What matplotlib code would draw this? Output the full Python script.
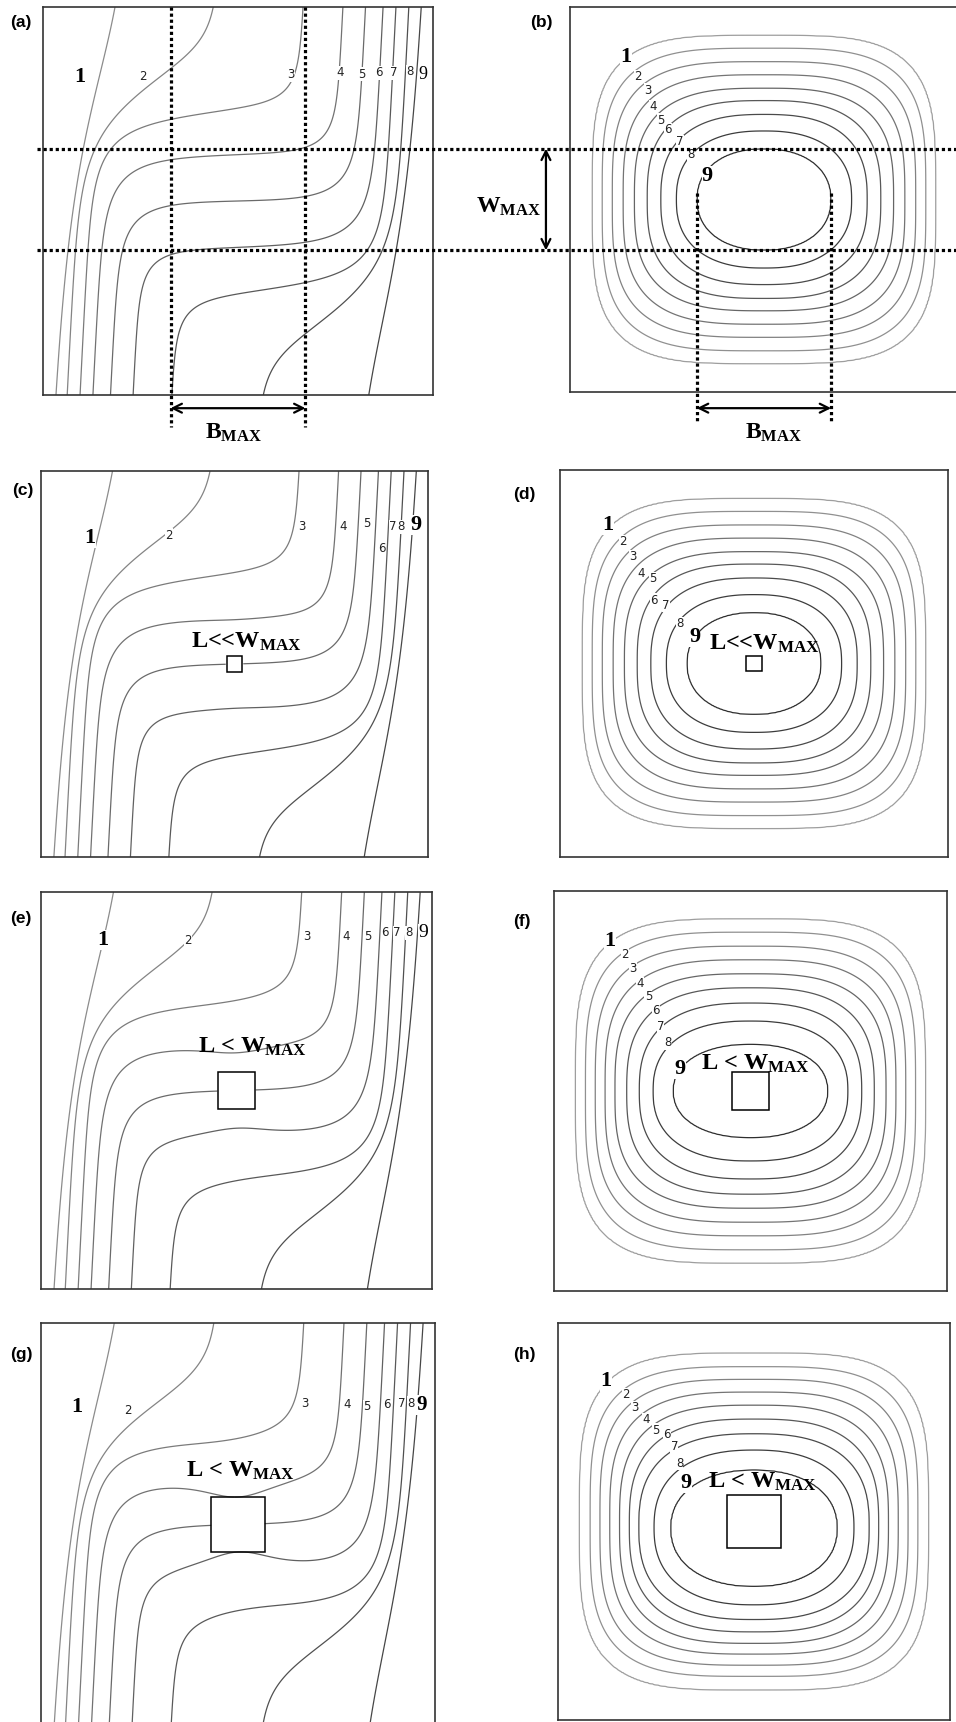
import numpy as np
import matplotlib
matplotlib.use("Agg")
import matplotlib.pyplot as plt
import matplotlib.transforms as mtransforms
from matplotlib.lines import Line2D
from matplotlib.patches import Rectangle

plt.rcParams["mathtext.fontset"] = "custom"
plt.rcParams["mathtext.rm"] = "Liberation Serif:bold"
plt.rcParams["mathtext.bf"] = "Liberation Serif:bold"
plt.rcParams["mathtext.it"] = "Liberation Serif:bold"

# ---- isotherms 1..9 (left panels), fractions of the box
iso_levels = [1, 2, 3, 4, 5, 6, 7, 8, 9]
iso_left_u = [0.030, 0.062, 0.095, 0.128, 0.173, 0.231, 0.330, 0.556, 0.816]   # rising branch at the bottom
iso_right_u = [0.184, 0.444, 0.667, 0.769, 0.827, 0.872, 0.905, 0.938, 0.970]  # rising branch at the top
iso_mid_v = [1.70, 0.95, 0.738, 0.62, 0.50, 0.38, 0.262, 0.05, -0.70]        # middle run height at u=0.5
iso_mid_slope = [2.2, 0.62, 0.12, 0.02, 0.0, 0.02, 0.12, 0.62, 2.2]
iso_round_low = [0.085, 0.08, 0.08, 0.08, 0.07, 0.055, 0.05, 0.045, 0.04]
iso_round_high = [0.04, 0.045, 0.05, 0.055, 0.07, 0.08, 0.08, 0.08, 0.085]
iso_lean = 0.05

# ---- streamlines (right panels): half width / half height of rings 1..9
ring_half_w = [0.442, 0.417, 0.391, 0.363, 0.334, 0.301, 0.266, 0.226, 0.173]
ring_half_h = [0.426, 0.393, 0.358, 0.324, 0.289, 0.257, 0.221, 0.178, 0.132]
ring_half_w_f = [0.445, 0.420, 0.395, 0.370, 0.345, 0.315, 0.283, 0.248, 0.197]
ring_half_h_f = [0.430, 0.397, 0.362, 0.328, 0.293, 0.258, 0.220, 0.175, 0.117]
ring_half_w_h = [0.445, 0.418, 0.393, 0.368, 0.343, 0.318, 0.294, 0.255, 0.213]
ring_half_h_h = [0.424, 0.390, 0.360, 0.330, 0.300, 0.268, 0.234, 0.195, 0.147]
ring_drop_h = [0.0, 0.0, 0.002, 0.004, 0.007, 0.010, 0.013, 0.015, 0.017]
ring_power = [3.8, 3.6, 3.4, 3.2, 3.0, 2.8, 2.6, 2.4, 2.2]

# square block half size per panel (fraction of box)
block_half = {"c": 0.0205, "d": 0.0205, "e": 0.047, "f": 0.048, "g": 0.068, "h": 0.068}
block_text = {"c": "L<<W", "d": "L<<W", "e": "L < W", "f": "L < W", "g": "L < W", "h": "L < W"}
block_text_pos = {"c": (0.531, 0.443), "d": (0.527, 0.448), "e": (0.54, 0.389),
                  "f": (0.512, 0.432), "g": (0.507, 0.366), "h": (0.522, 0.40)}

# label positions (u, distance from top) for levels 1..9
label_pos = {
    "a": [(0.095, 0.18), (0.257, 0.18), (0.635, 0.175), (0.762, 0.17), (0.818, 0.173),
          (0.862, 0.17), (0.90, 0.17), (0.941, 0.167), (0.974, 0.175)],
    "c": [(0.127, 0.174), (0.33, 0.166), (0.674, 0.145), (0.78, 0.145), (0.842, 0.135),
          (0.88, 0.20), (0.91, 0.145), (0.93, 0.145), (0.97, 0.14)],
    "e": [(0.159, 0.121), (0.376, 0.121), (0.68, 0.113), (0.78, 0.113), (0.837, 0.113),
          (0.88, 0.103), (0.91, 0.103), (0.94, 0.103), (0.977, 0.103)],
    "g": [(0.091, 0.208), (0.22, 0.218), (0.67, 0.20), (0.776, 0.203), (0.826, 0.208),
          (0.877, 0.203), (0.915, 0.199), (0.94, 0.199), (0.966, 0.203)],
    "b": [(0.145, 0.129), (0.175, 0.181), (0.201, 0.216), (0.214, 0.259), (0.235, 0.294),
          (0.253, 0.319), (0.283, 0.35), (0.311, 0.382), (0.354, 0.44)],
    "d": [(0.123, 0.142), (0.162, 0.185), (0.187, 0.224), (0.209, 0.267), (0.239, 0.28),
          (0.243, 0.336), (0.273, 0.349), (0.31, 0.397), (0.347, 0.431)],
    "f": [(0.142, 0.125), (0.18, 0.16), (0.20, 0.194), (0.22, 0.232), (0.24, 0.265),
          (0.259, 0.30), (0.271, 0.34), (0.29, 0.38), (0.32, 0.444)],
    "h": [(0.123, 0.147), (0.174, 0.181), (0.197, 0.214), (0.225, 0.244), (0.25, 0.27),
          (0.279, 0.282), (0.297, 0.31), (0.31, 0.353), (0.327, 0.403)],
}
nine_style = {"a": (13, "normal"), "c": (16, "bold"), "e": (14, "normal"), "g": (15, "bold"),
              "b": (16, "bold"), "d": (16, "bold"), "f": (16, "bold"), "h": (16, "bold")}

FW, FH = 956, 1722
boxes = {
    "a": (43, 7, 433, 395), "b": (570, 7, 958, 392),
    "c": (41, 471, 428, 857), "d": (560, 470, 948, 857),
    "e": (41, 892, 432, 1289), "f": (554, 891, 947, 1291),
    "g": (41, 1323, 435, 1726), "h": (558, 1323, 950, 1720),
}
letter_pos = {"a": (10, 22), "b": (530, 22), "c": (12, 490), "d": (513, 495),
              "e": (10, 919), "f": (513, 921), "g": (10, 1354), "h": (513, 1354)}


def smin(a, b, r):
    m = np.minimum(a, b)
    return m - r * np.log(np.exp(-(a - m) / r) + np.exp(-(b - m) / r))


def smax(a, b, r):
    return -smin(-a, -b, r)


def isotherm(U, V, k, half=None):
    # rounded step: up the left branch, across the middle run, up the right branch
    L = iso_left_u[k] + iso_lean * V
    R = iso_right_u[k] - iso_lean * (1 - V)
    s = iso_mid_slope[k]
    P = iso_mid_v[k] + s * (U - 0.5)
    if half:
        a2 = (1.1 * half) ** 2
        d2 = (P - 0.5) ** 2 + (U - 0.5) ** 2
        P = 0.5 + (P - 0.5) * (1 - 1.1 * a2 / np.maximum(d2, a2))
    mid = (P - V) / np.sqrt(1 + s * s)
    f = smin(U - L, smax(mid, U - R, iso_round_high[k]), iso_round_low[k])
    if half:
        inside = np.maximum(np.abs(U - 0.5), np.abs(V - 0.5)) < half
        f = np.where(inside, np.nan, f)
    return f


def ring_field(U, V, hw, hh, pw, drop=None):
    ks = np.arange(0, 11)
    aw = np.concatenate([[0.5], hw, [hw[-1] * 0.05]])
    ah = np.concatenate([[0.5], hh, [hh[-1] * 0.05]])
    pp = np.concatenate([[12.0], pw, [2.0]])
    dd = np.concatenate([[0.0], drop if drop else np.zeros(9), [drop[-1] if drop else 0.0]])
    dx = np.abs(U - 0.5)
    lo = np.zeros_like(U)
    hi = np.full_like(U, 10.0)
    for _ in range(30):
        mid = 0.5 * (lo + hi)
        a = np.interp(mid, ks, aw)
        b = np.interp(mid, ks, ah)
        p = np.interp(mid, ks, pp)
        dy = np.abs(V - 0.5 + np.interp(mid, ks, dd))
        inside = (dx / a) ** p + (dy / b) ** p < 1
        lo = np.where(inside, mid, lo)
        hi = np.where(inside, hi, mid)
    return 0.5 * (lo + hi)


fig = plt.figure(figsize=(FW / 100, FH / 100), dpi=100)


def add_panel(key):
    x0, y0, x1, y1 = boxes[key]
    ax = fig.add_axes([x0 / FW, 1 - y1 / FH, (x1 - x0) / FW, (y1 - y0) / FH])
    ax.set_xlim(0, 1)
    ax.set_ylim(0, 1)
    ax.set_xticks([])
    ax.set_yticks([])
    for s in ax.spines.values():
        s.set_color("#333333")
        s.set_linewidth(1.2)
    lx, ly = letter_pos[key]
    fig.text(lx / FW, 1 - ly / FH, "(%s)" % key, ha="left", va="center",
             fontsize=12.5, fontweight="bold", family="Liberation Sans")
    return ax


def put_labels(ax, key):
    bb = dict(facecolor="white", edgecolor="none", pad=0.2)
    for lev, (u, vt) in zip(iso_levels, label_pos[key]):
        if lev == 1:
            kw = dict(fontsize=16, fontweight="bold", family="Liberation Serif")
        elif lev == 9:
            fs, fw = nine_style[key]
            kw = dict(fontsize=fs, fontweight=fw, family="Liberation Serif")
        else:
            kw = dict(fontsize=8.5, family="DejaVu Sans", color="#222222")
        ax.text(u, 1 - vt, str(lev), ha="center", va="center", bbox=bb, zorder=4, **kw)


def put_block(ax, key):
    s = block_half[key]
    ax.add_patch(Rectangle((0.5 - s, 0.5 - s), 2 * s, 2 * s, fill=False,
                           edgecolor="black", lw=1.1, zorder=5))
    tu, tv = block_text_pos[key]
    ax.text(tu, 1 - tv, block_text[key] + r"$_{\rm MAX}$", ha="center", va="center",
            fontsize=17.5, fontweight="bold", family="Liberation Serif", zorder=6)


iso_colors = [str(g) for g in np.linspace(0.55, 0.28, 9)]
ring_colors = [str(g) for g in np.linspace(0.62, 0.18, 9)]

gl = np.linspace(0.0, 1.0, 420)
U, V = np.meshgrid(gl, gl)

axes = {}
for key in ["a", "c", "e", "g"]:
    ax = add_panel(key)
    axes[key] = ax
    for k in range(9):
        F = isotherm(U, V, k, block_half.get(key))
        ax.contour(U, V, F, levels=[0.0], colors=[iso_colors[k]], linewidths=0.9)
    put_labels(ax, key)
    if key in block_half:
        put_block(ax, key)

ring_sets = {"b": (ring_half_w, ring_half_h, None), "d": (ring_half_w, ring_half_h, None),
             "f": (ring_half_w_f, ring_half_h_f, None),
             "h": (ring_half_w_h, ring_half_h_h, ring_drop_h)}
gr = np.linspace(0, 1, 320)
U2, V2 = np.meshgrid(gr, gr)
for key in ["b", "d", "f", "h"]:
    ax = add_panel(key)
    axes[key] = ax
    hw, hh, drop = ring_sets[key]
    K = ring_field(U2, V2, hw, hh, ring_power, drop)
    ax.contour(U2, V2, K, levels=iso_levels, colors=ring_colors, linewidths=0.9)
    put_labels(ax, key)
    if key in block_half:
        put_block(ax, key)

# ---- B_MAX / W_MAX markers on (a) and (b)
ax_a, ax_b = axes["a"], axes["b"]
a9, b9 = ring_half_w[8], ring_half_h[8]
dot_kw = dict(color="black", lw=2.3, dashes=(1.0, 0.9), dash_capstyle="butt")
tr = mtransforms.blended_transform_factory(fig.transFigure, ax_b.transData)
for yv in (0.5 + b9, 0.5 - b9):
    fig.add_artist(Line2D([37 / FW, 1.0], [yv, yv], transform=tr, zorder=10, **dot_kw))
for xu in (0.5 - a9, 0.5 + a9):
    ax_a.add_line(Line2D([xu, xu], [1.0, -0.082], clip_on=False, zorder=10, **dot_kw))
    ax_b.add_line(Line2D([xu, xu], [0.517, -0.08], clip_on=False, zorder=10, **dot_kw))

arr = dict(arrowstyle="<->", lw=1.6, color="black", mutation_scale=16, shrinkA=0, shrinkB=0)
ax_a.annotate("", xy=(0.5 - a9, -0.034), xytext=(0.5 + a9, -0.034), arrowprops=arr,
              annotation_clip=False)
ax_b.annotate("", xy=(0.5 - a9, -0.042), xytext=(0.5 + a9, -0.042), arrowprops=arr,
              annotation_clip=False)
ax_b.annotate("", xy=(-0.062, 0.5 + b9), xytext=(-0.062, 0.5 - b9), arrowprops=arr,
              annotation_clip=False)
lab_kw = dict(fontsize=17, fontweight="bold", family="Liberation Serif", clip_on=False)
ax_a.text(0.49, -0.098, r"B$_{\rm MAX}$", ha="center", va="center", **lab_kw)
ax_b.text(0.525, -0.106, r"B$_{\rm MAX}$", ha="center", va="center", **lab_kw)
ax_b.text(-0.075, 0.48, r"W$_{\rm MAX}$", ha="right", va="center", **lab_kw)

fig.savefig("out.png", dpi=100, facecolor="white")
